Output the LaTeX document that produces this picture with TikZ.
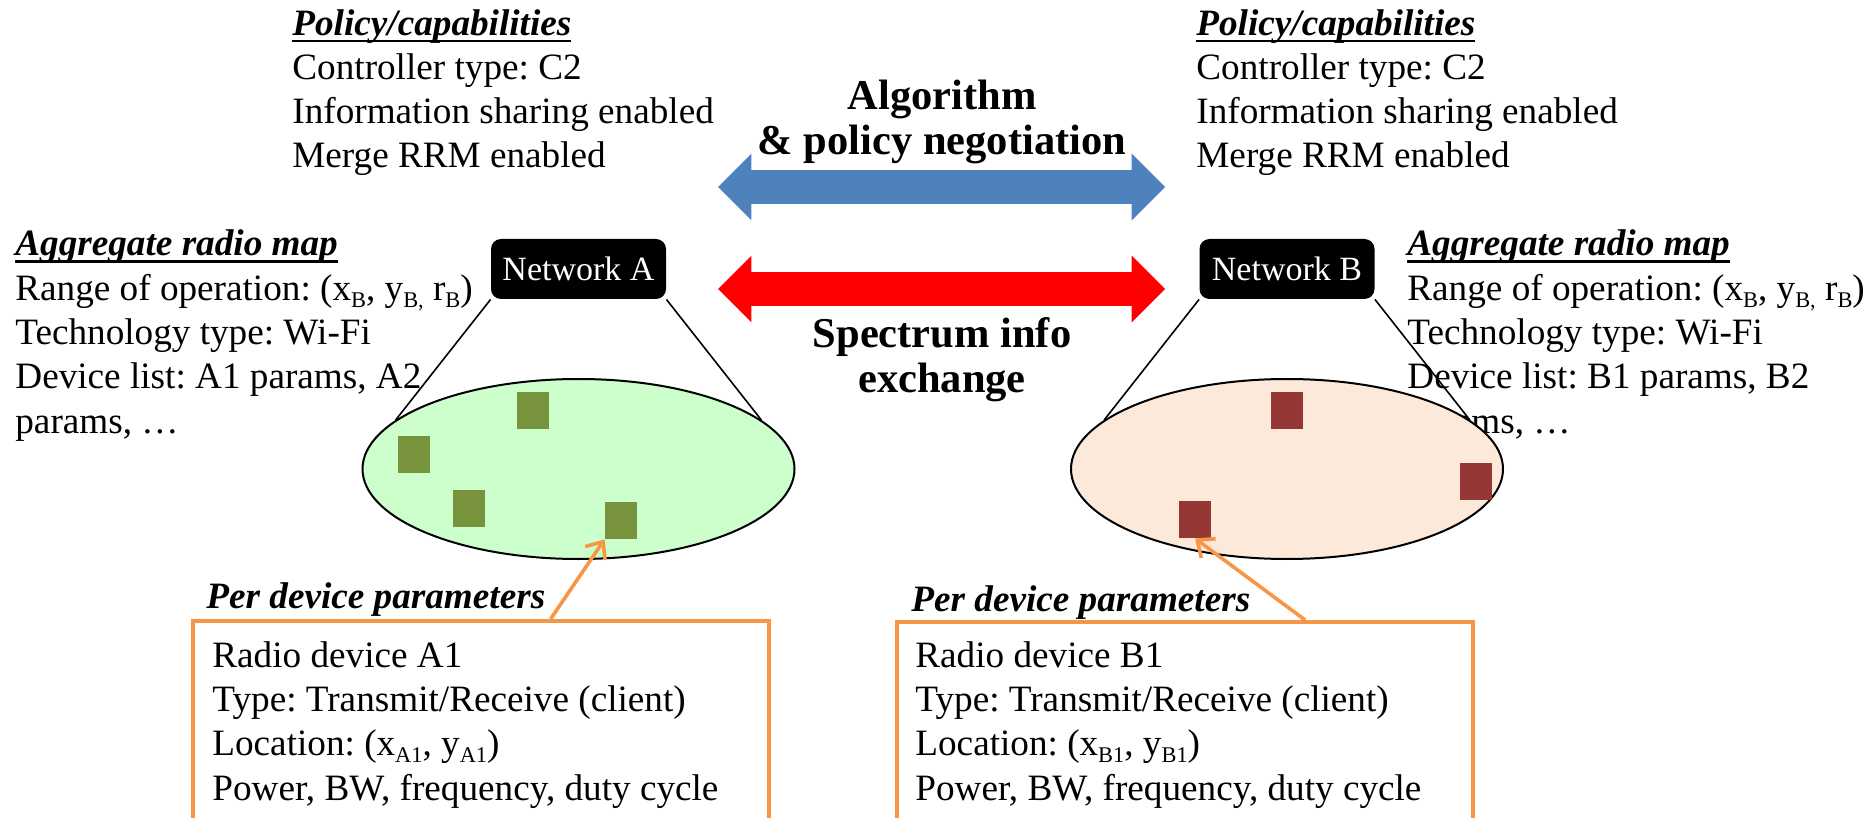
\documentclass[tikz,border=0pt]{standalone}
\usepackage{fontspec}
\setmainfont{Liberation Serif}
\usetikzlibrary{positioning,arrows.meta,calc,shapes.geometric,shapes.arrows}
\definecolor{negblue}{HTML}{4F81BD}
\definecolor{mapgreen}{HTML}{CCFFCC}
\definecolor{mappeach}{HTML}{FDE9D9}
\definecolor{devgreen}{HTML}{77933C}
\definecolor{devbrown}{HTML}{953735}
\definecolor{boxorange}{HTML}{F79646}
\newcommand{\ulhead}[1]{\setbox0\hbox{\bfseries\itshape #1}\rlap{\rule[-3.7pt]{\wd0}{1.4pt}}\box0}
\newcommand{\lowtext}[1]{\raisebox{-3.5pt}{\fontsize{11.2}{11.2}\selectfont #1}}
\tikzset{
  txt/.style={align=left,anchor=base west,inner sep=0pt,font=\fontsize{18.6}{22.15}\selectfont\frenchspacing},
  lbl/.style={align=center,anchor=base,inner sep=0pt,font=\fontsize{21.25}{22.5}\selectfont\bfseries},
  net/.style={fill=black,text=white,rounded corners=5pt,minimum width=87.5pt,minimum height=30pt,inner sep=0pt,font=\fontsize{17}{20}\selectfont},
  map/.style={ellipse,draw,line width=1pt,minimum width=216pt,minimum height=90pt,inner sep=0pt},
  dev/.style={minimum width=16pt,minimum height=18.5pt,inner sep=0pt},
  devbox/.style={draw=boxorange,line width=2pt,minimum width=288pt,minimum height=120pt,anchor=north west},
  link/.style={line width=0.8pt},
  pick/.style={-{Straight Barb[length=7pt,width=12pt]},line width=1.8pt,boxorange},
  xarrow/.style={double arrow,double arrow head extend=8.25pt,minimum height=223.5pt,minimum width=33pt,
    text height=8.25pt,text depth=8.25pt,inner sep=0pt},
}
\begin{document}
\begin{tikzpicture}[x=0.5pt,y=-0.5pt]
  \clip (0,0) rectangle (1875,818);
  % policy and radio map texts (placed by last baseline)
  \node[txt] (polA) at (292,168) {\ulhead{Policy/capabilities}\\Controller type: C2\\Information sharing enabled\\Merge RRM enabled};
  \node[txt] (polB) at (1196,168) {\ulhead{Policy/capabilities}\\Controller type: C2\\Information sharing enabled\\Merge RRM enabled};
  \node[txt] (aggA) at (15,433) {\ulhead{Aggregate radio map}\\Range of operation: (x\lowtext{B}, y\lowtext{B,} r\lowtext{B})\\Technology type: Wi-Fi\\Device list: A1 params, A2\\params, …};
  \node[txt] (aggB) at (1407,433) {\ulhead{Aggregate radio map}\\Range of operation: (x\lowtext{B}, y\lowtext{B,} r\lowtext{B})\\Technology type: Wi-Fi\\Device list: B1 params, B2\\params, …};
  % exchange arrows
  \node[xarrow,fill=negblue] (negArrow) at (941.5,187) {};
  \node[xarrow,fill=red] (specArrow) at (941.5,289) {};
  \node[lbl] (negLbl) at (942,155) {Algorithm\\\& policy negotiation};
  \node[lbl] (specLbl) at (942,393) {Spectrum info\\exchange};
  % radio maps
  \node[map,fill=mapgreen] (mapA) at (578.5,469) {};
  \node[map,fill=mappeach] (mapB) at (1287,469) {};
  \node[dev,fill=devgreen] (sqA1) at (533,410.5) {};
  \node[dev,fill=devgreen] (sqA2) at (414,454.5) {};
  \node[dev,fill=devgreen] (sqA3) at (469,508.5) {};
  \node[dev,fill=devgreen] (sqA4) at (621,520.5) {};
  \node[dev,fill=devbrown] (sqB1) at (1287,410.5) {};
  \node[dev,fill=devbrown] (sqB2) at (1476,481.5) {};
  \node[dev,fill=devbrown] (sqB3) at (1195,519.5) {};
  % networks
  \node[net] (netA) at (578.5,269) {Network A};
  \node[net] (netB) at (1287,269) {Network B};
  \draw[link] (netA.south west) -- (mapA.165);
  \draw[link] (netA.south east) -- (mapA.15);
  \draw[link] (netB.south west) -- (mapB.165);
  \draw[link] (netB.south east) -- (mapB.15);
  % per device boxes
  \node[devbox] (boxA) at (191,619) {};
  \node[devbox] (boxB) at (895,620) {};
  \node[txt] (parA) at (206,608) {\bfseries\itshape Per device parameters};
  \node[txt] (parB) at (911,611) {\bfseries\itshape Per device parameters};
  \node[txt] (listA) at (212,800) {Radio device A1\\Type: Transmit/Receive (client)\\Location: (x\lowtext{A1}, y\lowtext{A1})\\Power, BW, frequency, duty cycle};
  \node[txt] (listB) at (915,800) {Radio device B1\\Type: Transmit/Receive (client)\\Location: (x\lowtext{B1}, y\lowtext{B1})\\Power, BW, frequency, duty cycle};
  \draw[pick] ($(boxA.north west)!0.62!(boxA.north east)$) -- (sqA4.south west);
  \draw[pick] ($(boxB.north west)!0.707!(boxB.north east)$) -- (sqB3.south);
\end{tikzpicture}
\end{document}
